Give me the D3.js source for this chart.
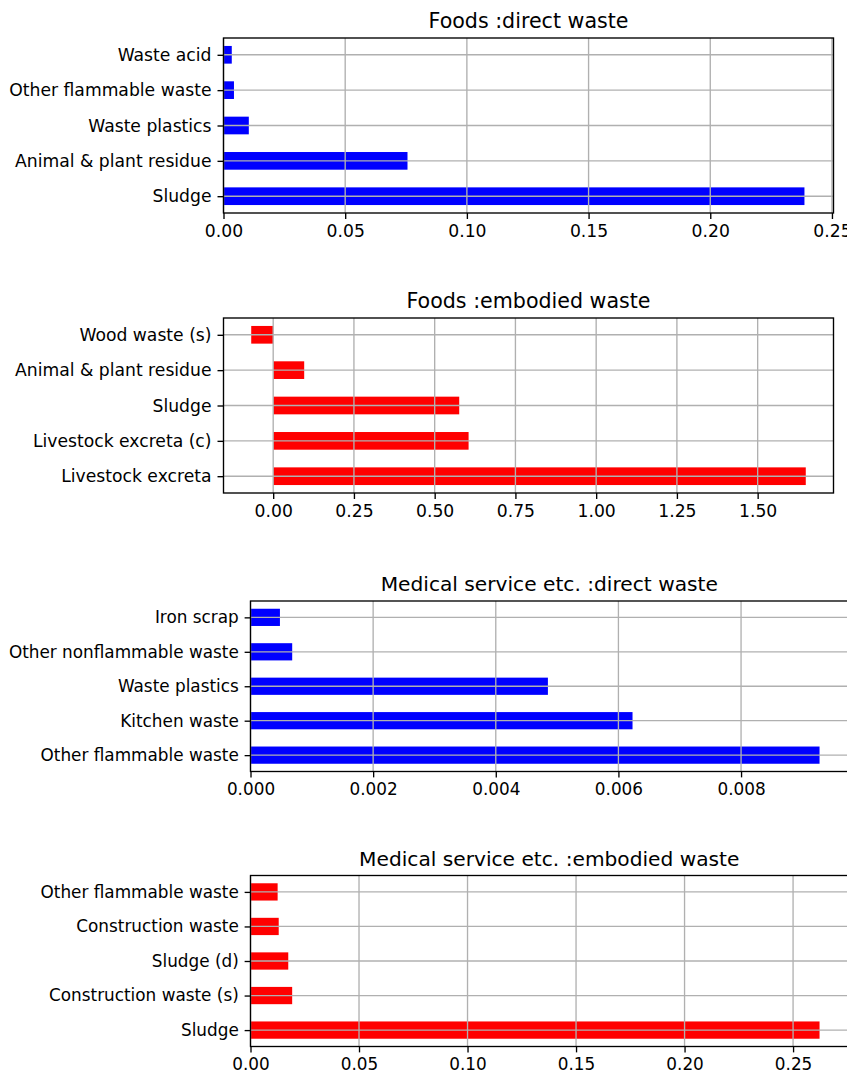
<!DOCTYPE html>
<html>
<head>
<meta charset="utf-8">
<script src="https://cdn.jsdelivr.net/npm/d3@7"></script>
<style>
  html, body { margin: 0; padding: 0; background: #fff; overflow: hidden; }
  svg { display: block; font-family: "DejaVu Sans", sans-serif; }
</style>
</head>
<body>
<svg id="chart" width="847" height="1073"></svg>
<script>
// Categories are listed bottom-to-top (first entry sits on the lowest row).
const foodsDirectCats = ["Sludge", "Animal & plant residue", "Waste plastics", "Other flammable waste", "Waste acid"];
const foodsDirectVals = [0.2387, 0.0756, 0.0104, 0.0043, 0.0034];
const foodsDirectTicks = [0, 0.05, 0.10, 0.15, 0.20, 0.25];

const foodsEmbodiedCats = ["Livestock excreta", "Livestock excreta (c)", "Sludge", "Animal & plant residue", "Wood waste (s)"];
const foodsEmbodiedVals = [1.649, 0.605, 0.576, 0.096, -0.068];
const foodsEmbodiedTicks = [0, 0.25, 0.50, 0.75, 1.00, 1.25, 1.50];

const medDirectCats = ["Other flammable waste", "Kitchen waste", "Waste plastics", "Other nonflammable waste", "Iron scrap"];
const medDirectVals = [0.00928, 0.00623, 0.00485, 0.00068, 0.00048];
const medDirectTicks = [0, 0.002, 0.004, 0.006, 0.008];

const medEmbodiedCats = ["Sludge", "Construction waste (s)", "Sludge (d)", "Construction waste", "Other flammable waste"];
const medEmbodiedVals = [0.2622, 0.0192, 0.0174, 0.0130, 0.0125];
const medEmbodiedTicks = [0, 0.05, 0.10, 0.15, 0.20, 0.25];

const svg = d3.select("#chart");

function drawPanel(cfg) {
  const s = cfg.scale;
  const fs = 17.2 * s, tfs = 20.6 * s;
  const lw = 1.36 * s, tickLen = 6 * s, pad = 6 * s;
  const { left, top, width, height } = cfg;

  const vals = cfg.values;
  const lo = Math.min(0, d3.min(vals)), hi = Math.max(0, d3.max(vals));
  const span = hi - lo;
  const x0 = lo === 0 ? 0 : lo - 0.05 * span;
  const x1 = hi === 0 ? 0 : hi + 0.05 * span;
  const x = d3.scaleLinear().domain([x0, x1]).range([0, width]);

  const n = cfg.cats.length;
  const barW = 0.5;
  const yLo = -barW / 2 - 0.05 * (n - 1 + barW);
  const yHi = n - 1 + barW / 2 + 0.05 * (n - 1 + barW);
  const y = d3.scaleLinear().domain([yLo, yHi]).range([height, 0]);

  const g = svg.append("g").attr("transform", `translate(${left},${top})`);

  // bars
  g.selectAll("rect.bar").data(vals).join("rect")
    .attr("class", "bar")
    .attr("x", d => x(Math.min(0, d)))
    .attr("width", d => Math.abs(x(d) - x(0)))
    .attr("y", (d, i) => y(i + barW / 2))
    .attr("height", y(0) - y(barW))
    .attr("fill", cfg.color);

  // grid drawn over the bars
  const grid = g.append("g").attr("stroke", "#b0b0b0").attr("stroke-width", lw);
  cfg.ticks.forEach(t => {
    grid.append("line").attr("x1", x(t)).attr("x2", x(t)).attr("y1", 0).attr("y2", height);
  });
  cfg.cats.forEach((c, i) => {
    grid.append("line").attr("x1", 0).attr("x2", width).attr("y1", y(i)).attr("y2", y(i));
  });

  // x axis
  const xAxis = d3.axisBottom(x).tickValues(cfg.ticks)
    .tickFormat(d3.format(cfg.fmt)).tickSizeInner(tickLen).tickSizeOuter(0).tickPadding(pad);
  const xa = g.append("g").attr("transform", `translate(0,${height})`).call(xAxis);
  xa.select(".domain").remove();
  xa.selectAll("line").attr("stroke", "#000").attr("stroke-width", lw);
  xa.selectAll("text").attr("font-size", fs).attr("fill", "#000")
    .attr("font-family", "DejaVu Sans, sans-serif");

  // y axis with category labels
  const yAxis = d3.axisLeft(y).tickValues(d3.range(n))
    .tickFormat(i => cfg.cats[i]).tickSizeInner(tickLen).tickSizeOuter(0).tickPadding(pad);
  const ya = g.append("g").call(yAxis);
  ya.select(".domain").remove();
  ya.selectAll("line").attr("stroke", "#000").attr("stroke-width", lw);
  ya.selectAll("text").attr("font-size", fs).attr("fill", "#000")
    .attr("font-family", "DejaVu Sans, sans-serif");

  // frame
  g.append("rect").attr("x", 0).attr("y", 0).attr("width", width).attr("height", height)
    .attr("fill", "none").attr("stroke", "#000").attr("stroke-width", lw);

  // title
  g.append("text").attr("x", width / 2).attr("y", -10 * s)
    .attr("text-anchor", "middle").attr("font-size", tfs).attr("fill", "#000")
    .text(cfg.title);
}

drawPanel({ title: "Foods :direct waste", cats: foodsDirectCats, values: foodsDirectVals,
  ticks: foodsDirectTicks, fmt: ".2f", color: "#0000ff",
  left: 223.5, top: 38, width: 610, height: 175, scale: 1 });

drawPanel({ title: "Foods :embodied waste", cats: foodsEmbodiedCats, values: foodsEmbodiedVals,
  ticks: foodsEmbodiedTicks, fmt: ".2f", color: "#ff0000",
  left: 223.5, top: 318, width: 610, height: 175, scale: 1 });

drawPanel({ title: "Medical service etc. :direct waste", cats: medDirectCats, values: medDirectVals,
  ticks: medDirectTicks, fmt: ".3f", color: "#0000ff",
  left: 250.5, top: 601, width: 597.5, height: 170.5, scale: 0.98 });

drawPanel({ title: "Medical service etc. :embodied waste", cats: medEmbodiedCats, values: medEmbodiedVals,
  ticks: medEmbodiedTicks, fmt: ".2f", color: "#ff0000",
  left: 250.5, top: 875.5, width: 597.5, height: 171, scale: 0.98 });
</script>
</body>
</html>
